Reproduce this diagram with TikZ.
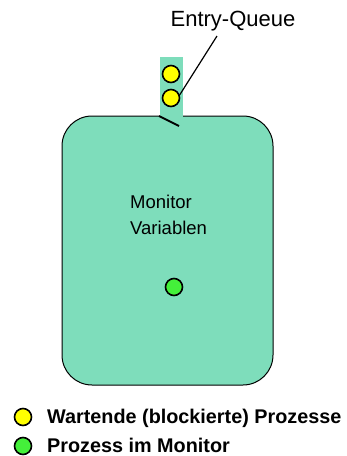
\documentclass[tikz,border=0pt]{standalone}
\usepackage{fontspec}
\setmainfont{Liberation Sans}
\definecolor{mint}{HTML}{7EDDBB}
\definecolor{procyellow}{HTML}{FFFF00}
\definecolor{procgreen}{HTML}{44F03A}
\tikzset{
  proc/.style={circle, draw=black, line width=1.6pt, minimum size=17pt, inner sep=0pt},
  waiting/.style={proc, fill=procyellow},
  inside/.style={proc, fill=procgreen},
  txt/.style={inner sep=0pt, anchor=base west, text=black},
}
\begin{document}
\begin{tikzpicture}[x=1pt, y=-1pt]
\useasboundingbox (0,0) rectangle (347,456);
% monitor box
\draw[fill=mint, draw=black, line width=1pt, rounded corners=30pt] (62,116) rectangle (273,385);
% entry queue channel
\fill[mint] (159.5,57) rectangle (182.5,116.6);
\draw[line width=2pt] (159,116) -- (179,126);
\node[waiting] (q1) at (171,74) {};
\node[waiting] (q2) at (171,98) {};
\node[inner sep=0pt, font=\fontsize{22}{26}\selectfont] (eq) at (233,21) {Entry-Queue};
\coordinate (eqp) at (217,36);
\draw[line width=1.2pt] (q2.20) -- (eqp);
% monitor variables
\node[txt, font=\fontsize{18.5}{22}\selectfont] (mv1) at (130,208.5) {Monitor};
\node[txt, font=\fontsize{18.5}{22}\selectfont] (mv2) at (130,234.5) {Variablen};
\node[inside] (p) at (174,287) {};
% legend
\node[waiting] (l1) at (23,417) {};
\node[txt, font=\fontsize{19.8}{23}\selectfont\bfseries] (lt1) at (47,423) {Wartende (blockierte) Prozesse};
\node[inside] (l2) at (23,446) {};
\node[txt, font=\fontsize{19.8}{23}\selectfont\bfseries] (lt2) at (47,452) {Prozess im Monitor};
\end{tikzpicture}
\end{document}
